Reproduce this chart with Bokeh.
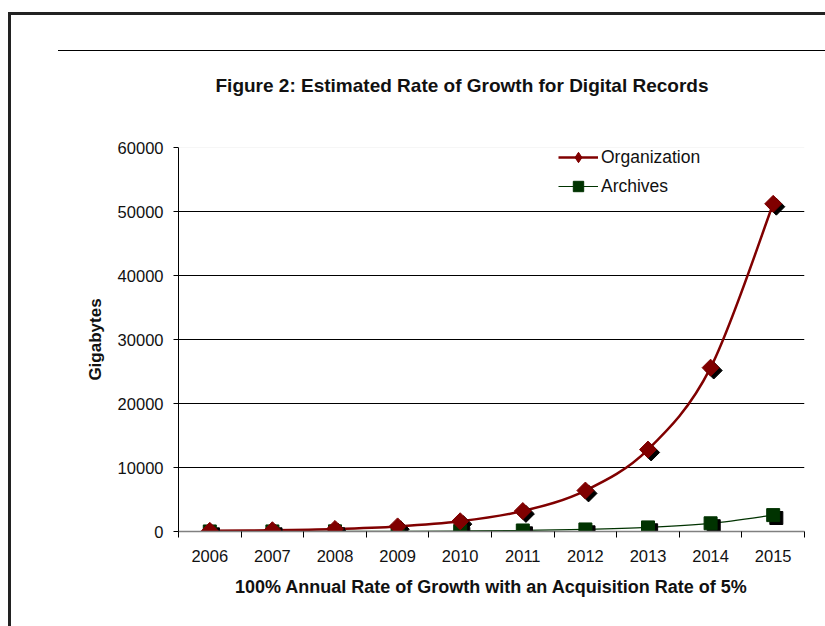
import numpy as np
from bokeh.plotting import figure
from bokeh.layouts import column
from bokeh.models import (Span, Legend, LegendItem, FixedTicker, Title, Div,
                          CustomJSTickFormatter, NumeralTickFormatter, Range1d, ColumnDataSource)
from bokeh.transform import dodge
from bokeh.embed import file_html
from bokeh.resources import INLINE

# ---- data ----
years = [2006, 2007, 2008, 2009, 2010, 2011, 2012, 2013, 2014, 2015]
organization = [100, 200, 400, 800, 1600, 3200, 6400, 12800, 25600, 51200]
archives = [5, 10, 20, 40, 80, 160, 320, 640, 1280, 2560]
y_ticks = [0, 10000, 20000, 30000, 40000, 50000, 60000]
title_text = "Figure 2: Estimated Rate of Growth for Digital Records"
x_label = "100% Annual Rate of Growth with an Acquisition Rate of 5%"
y_label = "Gigabytes"
series_names = ["Organization", "Archives"]

ORG = "#800000"
ARC = "#003300"
FONT = "Liberation Sans"

W, H = 825, 626
p = figure(width=W, height=H, output_backend="svg", toolbar_location=None,
           x_range=Range1d(0, len(years)), y_range=Range1d(0, 60000),
           min_border_left=178, min_border_right=21, min_border_top=147, min_border_bottom=95)
p.outline_line_color = None
p.background_fill_color = "white"
p.border_fill_color = "white"
p.xgrid.visible = False
p.ygrid.ticker = FixedTicker(ticks=y_ticks[1:-1])
p.ygrid.grid_line_color = "black"
p.ygrid.grid_line_width = 1
p.add_layout(Span(location=y_ticks[-1], dimension="width", line_color="#eeeeee", line_width=1))

xs = [i + 0.5 for i in range(len(years))]

# x axis
xa = p.xaxis[0]
xa.ticker = FixedTicker(ticks=xs, minor_ticks=list(range(len(years) + 1)))
xa.formatter = CustomJSTickFormatter(args=dict(years=[str(y) for y in years]),
                                     code="return years[Math.floor(tick)];")
xa.major_tick_out = 0
xa.major_tick_in = 0
xa.minor_tick_out = 6
xa.minor_tick_in = 0
xa.minor_tick_line_color = "black"
xa.axis_line_color = "#808080"
xa.axis_line_width = 1.5
xa.major_label_text_font = FONT
xa.major_label_text_font_size = "16.5px"
xa.major_label_text_color = "#111111"
xa.major_label_standoff = 12
xa.axis_label = x_label
xa.axis_label_text_font = FONT
xa.axis_label_text_font_style = "bold"
xa.axis_label_text_font_size = "18px"
xa.axis_label_text_color = "#111111"
xa.axis_label_standoff = 12

# y axis
ya = p.yaxis[0]
ya.ticker = FixedTicker(ticks=y_ticks)
ya.formatter = NumeralTickFormatter(format="0")
ya.major_tick_out = 5
ya.major_tick_in = 0
ya.minor_tick_out = 0
ya.minor_tick_in = 0
ya.axis_line_color = "black"
ya.major_label_text_font = FONT
ya.major_label_text_font_size = "16.5px"
ya.major_label_text_color = "#111111"
ya.major_label_standoff = 10
ya.axis_label = y_label
ya.axis_label_text_font = FONT
ya.axis_label_text_font_style = "bold"
ya.axis_label_text_font_size = "17px"
ya.axis_label_text_color = "#111111"
ya.axis_label_standoff = 10

# title
p.add_layout(Title(text=title_text, align="left", offset=37, standoff=104,
                   text_font=FONT, text_font_style="bold", text_font_size="19px",
                   text_color="#111111"), "above")


def bezier_source(xv, yv):
    n = len(xv)
    d = dict(x0=[], y0=[], x1=[], y1=[], cx0=[], cy0=[], cx1=[], cy1=[])
    for i in range(n - 1):
        a = max(i - 1, 0)
        b = min(i + 2, n - 1)
        d["x0"].append(xv[i]); d["y0"].append(yv[i])
        d["x1"].append(xv[i + 1]); d["y1"].append(yv[i + 1])
        d["cx0"].append(xv[i] + (xv[i + 1] - xv[a]) / 6)
        d["cy0"].append(yv[i] + (yv[i + 1] - yv[a]) / 6)
        d["cx1"].append(xv[i + 1] - (xv[b] - xv[i]) / 6)
        d["cy1"].append(yv[i + 1] - (yv[b] - yv[i]) / 6)
    return ColumnDataSource(d)


bz_org = bezier_source(xs, organization)
bz_arc = bezier_source(xs, archives)

p.bezier("x0", "y0", "x1", "y1", "cx0", "cy0", "cx1", "cy1", source=bz_arc,
         line_color=ARC, line_width=1.2)
p.bezier("x0", "y0", "x1", "y1", "cx0", "cy0", "cx1", "cy1", source=bz_org,
         line_color=ORG, line_width=2.5)

src_org = ColumnDataSource(dict(x=xs, y=organization))
src_arc = ColumnDataSource(dict(x=xs, y=archives))

# shadows
p.scatter(x=dodge("x", 0.05), y=dodge("y", -450), source=src_org, marker="square",
          angle=np.pi / 4, size=12, fill_color="black", line_color="black")
p.scatter(x=dodge("x", 0.05), y=dodge("y", -450), source=src_arc, marker="square",
          size=13, fill_color="black", line_color="black")

p.scatter("x", "y", source=src_arc, marker="square", size=13,
          fill_color=ARC, line_color=ARC)
p.scatter("x", "y", source=src_org, marker="square", angle=np.pi / 4, size=12,
          fill_color=ORG, line_color=ORG)

# legend-only renderers (no visible data)
leg_src = ColumnDataSource(dict(x=[xs[0]], y=[np.nan]))
l_org = p.line("x", "y", source=leg_src, line_color=ORG, line_width=2.5)
k_org = p.scatter("x", "y", source=leg_src, marker="diamond", size=12,
                  fill_color=ORG, line_color=ORG)
l_arc = p.line("x", "y", source=leg_src, line_color=ARC, line_width=1.2)
k_arc = p.scatter("x", "y", source=leg_src, marker="square", size=10,
                  fill_color=ARC, line_color=ARC)

legend = Legend(items=[LegendItem(label=series_names[0], renderers=[l_org, k_org]),
                       LegendItem(label=series_names[1], renderers=[l_arc, k_arc])],
                location=(380, 332), padding=0, margin=0, spacing=3,
                glyph_width=40, glyph_height=26, label_height=26, label_standoff=3,
                label_text_font=FONT, label_text_font_size="17.5px", label_text_color="#111111",
                background_fill_alpha=0, border_line_alpha=0)
p.add_layout(legend, "center")

# page decorations (frame border and rule) as an overlay
deco = Div(text=('<div style="position:absolute;left:8px;top:12px;width:3px;height:640px;background:#222"></div>'
                 '<div style="position:absolute;left:8px;top:12px;width:830px;height:3px;background:#222"></div>'
                 '<div style="position:absolute;left:58px;top:50px;width:780px;height:1px;background:#000"></div>'),
           width=10, height=10, margin=0,
           styles={"position": "absolute", "left": "0px", "top": "0px", "overflow": "visible",
                   "pointer-events": "none"})

layout = column(p, deco)
open("out.html", "w").write(file_html(layout, INLINE))
